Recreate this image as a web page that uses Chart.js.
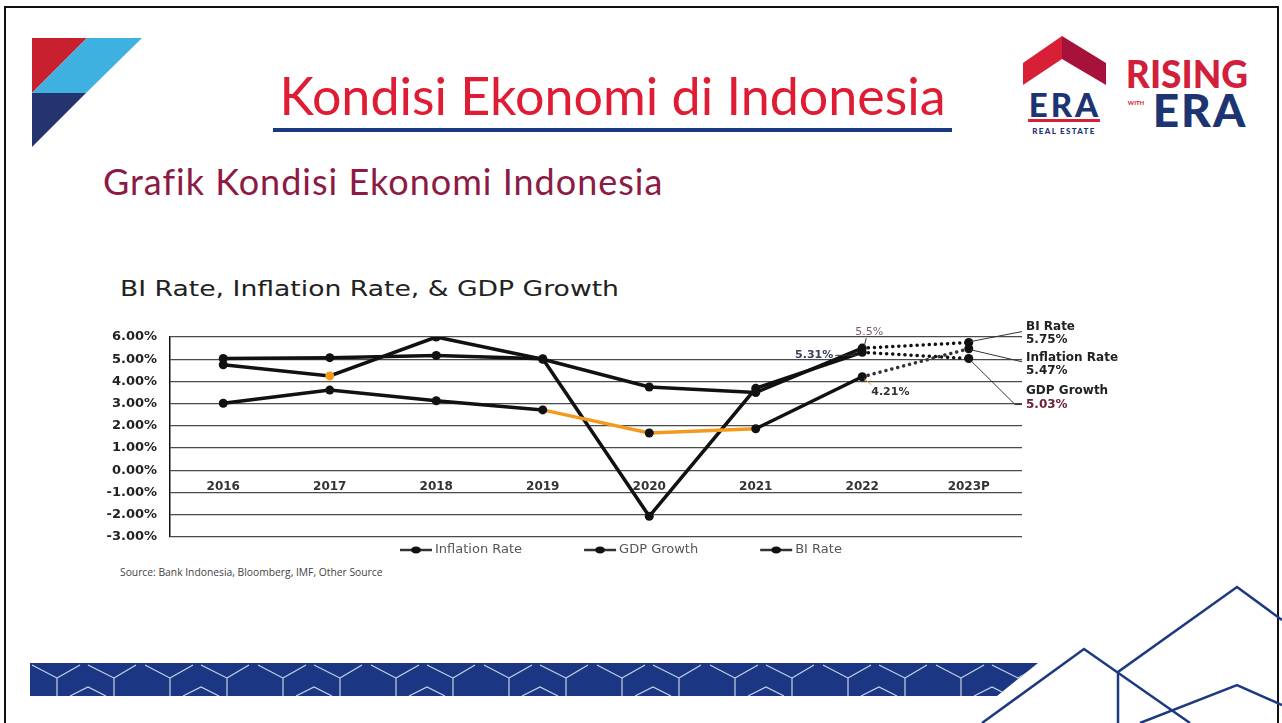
<!DOCTYPE html>
<html>
<head>
<meta charset="utf-8">
<script src="https://cdn.jsdelivr.net/npm/chart.js@4.4.0/dist/chart.umd.min.js"></script>
<style>
body { margin: 0; width: 1282px; height: 723px; overflow: hidden; background: #fff; position: relative; font-family: Lato, sans-serif; }
#frame { position: absolute; left: 4px; top: 6px; width: 1271px; height: 740px; border: 2px solid #111; }
#deco { position: absolute; left: 0; top: 0; }
.title { position: absolute; left: 263px; width: 699px; top: 64px; text-align: center; font-size: 52px; line-height: 62px; color: #e01b34; white-space: nowrap; }
.rule { position: absolute; left: 273px; top: 128px; width: 679px; height: 4px; background: #1b3a84; }
.subtitle { position: absolute; left: 103px; top: 158px; font-size: 36px; line-height: 46px; letter-spacing: 1px; color: #8c1a45; white-space: nowrap; }
.ctitle { position: absolute; left: 120px; top: 275px; font-family: "DejaVu Sans", sans-serif; font-size: 22px; line-height: 28px; color: #222; white-space: nowrap; transform: scaleX(1.21); transform-origin: 0 0; }
.source { position: absolute; left: 120px; top: 566px; font-family: "Open Sans", sans-serif; font-size: 10.3px; line-height: 13px; color: #444; white-space: nowrap; }
#chart { position: absolute; left: 100px; top: 300px; }
</style>
</head>
<body>
<div id="frame"></div>
<svg id="deco" width="1282" height="723">
  <defs>
    <pattern id="band" x="30" y="663" width="113" height="33" patternUnits="userSpaceOnUse">
      <path d="M2,2 L27,15 L27,33 M27,15 L50,2 M40,33 L58,24 L76,33 M58,2 L84,15 L84,33 M84,15 L106,2" stroke="#c9d1e4" stroke-width="1.2" fill="none"/>
    </pattern>
  </defs>
  <!-- left logo -->
  <polygon points="32,38 87,38 32,93" fill="#c8202f"/>
  <polygon points="87,38 142,38 86,93 32,93" fill="#3eb1e0"/>
  <polygon points="32,93 86,93 32,147" fill="#24346f"/>
  <!-- ERA logo -->
  <polygon points="1023,63 1062,36 1062,59 1023,85" fill="#d71f35"/>
  <polygon points="1062,36 1106,63 1106,85 1062,59" fill="#a6123a"/>
  <text x="1065" y="117" text-anchor="middle" font-family="Lato" font-weight="900" font-size="33" letter-spacing="3" fill="#1d3473">ERA</text>
  <rect x="1028" y="119" width="72" height="3" fill="#d71f35"/>
  <text x="1064" y="134" text-anchor="middle" font-family="Lato" font-weight="900" font-size="8" letter-spacing="1.3" fill="#1d3473">REAL ESTATE</text>
  <text x="1187" y="88" text-anchor="middle" font-family="Lato" font-weight="900" font-size="37" fill="#d21f3c">RISING</text>
  <text x="1136" y="105" text-anchor="middle" font-family="Lato" font-weight="900" font-size="6" fill="#d21f3c">WITH</text>
  <text x="1200" y="127" text-anchor="middle" font-family="Lato" font-weight="900" font-size="46" letter-spacing="2" fill="#1d3473">ERA</text>
  <!-- bottom band -->
  <polygon points="30,663 1038,663 997,696 30,696" fill="#1b3784"/>
  <polygon points="30,663 1038,663 997,696 30,696" fill="url(#band)"/>
  <!-- bottom right line art -->
  <g stroke="#1d3a80" stroke-width="2.5" fill="none">
    <polyline points="982,723 1084,649 1190,723"/>
    <polyline points="1118,723 1118,672 1237,587 1282,620"/>
    <polyline points="1140,723 1237,685 1282,705"/>
  </g>
</svg>
<div class="title">Kondisi Ekonomi di Indonesia</div>
<div class="rule"></div>
<div class="subtitle">Grafik Kondisi Ekonomi Indonesia</div>
<div class="ctitle">BI Rate, Inflation Rate, &amp; GDP Growth</div>
<div class="source">Source: Bank Indonesia, Bloomberg, IMF, Other Source</div>
<canvas id="chart" width="1182" height="270"></canvas>
<script>
const years = ['2016', '2017', '2018', '2019', '2020', '2021', '2022', '2023P'];
const inflation = [3.02, 3.61, 3.13, 2.72, 1.68, 1.87, 4.21, 5.47];
const gdpGrowth = [5.03, 5.07, 5.17, 5.02, -2.07, 3.69, 5.31, 5.03];
const biRate = [4.75, 4.25, 6.00, 5.00, 3.75, 3.50, 5.50, 5.75];
const seriesNames = ['Inflation Rate', 'GDP Growth', 'BI Rate'];

const orange = '#f39a1e';

// dotted projection segment into 2023P
const dotted = ctx => ctx.p1DataIndex === 7 ? [0.1, 6] : undefined;

function line(ctx, x1, y1, x2, y2) {
    ctx.beginPath();
    ctx.moveTo(x1, y1);
    ctx.lineTo(x2, y2);
    ctx.stroke();
}

const calloutPlugin = {
    id: 'callouts',
    afterDatasetsDraw(chart) {
        const { ctx, chartArea, scales: { x, y } } = chart;
        const x22 = x.getPixelForValue(6);
        const x23 = x.getPixelForValue(7);
        const right = chartArea.right;
        ctx.save();
        ctx.strokeStyle = '#333';
        ctx.lineWidth = 1;
        ctx.textBaseline = 'middle';

        // 2022 values
        let py = y.getPixelForValue(biRate[6]);
        line(ctx, x22 + 2, py - 2, x22 + 4, py - 10);
        ctx.font = '11px "DejaVu Sans"';
        ctx.fillStyle = '#7d5c66';
        ctx.textAlign = 'center';
        ctx.fillText('5.5%', x22 + 7, py - 16);

        py = y.getPixelForValue(gdpGrowth[6]);
        line(ctx, x22 - 27, py + 3, x22 - 5, py + 3);
        ctx.font = 'bold 11px "DejaVu Sans"';
        ctx.fillStyle = '#3b4060';
        ctx.textAlign = 'right';
        ctx.fillText(gdpGrowth[6].toFixed(2) + '%', x22 - 29, py + 3);

        py = y.getPixelForValue(inflation[6]);
        ctx.strokeStyle = orange;
        line(ctx, x22 + 2, py + 2, x22 + 9, py + 8);
        ctx.fillStyle = '#333';
        ctx.textAlign = 'left';
        ctx.fillText(inflation[6].toFixed(2) + '%', x22 + 9, py + 15);

        // 2023P projections, labelled to the right
        ctx.strokeStyle = '#333';
        ctx.font = 'bold 12px "DejaVu Sans"';
        py = y.getPixelForValue(biRate[7]);
        line(ctx, x23 + 2, py - 1, right, py - 11);
        ctx.fillStyle = '#222';
        ctx.fillText('BI Rate', right + 4, py - 16);
        ctx.fillText(biRate[7].toFixed(2) + '%', right + 4, py - 3);

        py = y.getPixelForValue(inflation[7]);
        line(ctx, x23 + 2, py + 1, right, py + 13);
        ctx.fillText('Inflation Rate', right + 4, py + 9);
        ctx.fillText(inflation[7].toFixed(2) + '%', right + 4, py + 22);

        py = y.getPixelForValue(gdpGrowth[7]);
        ctx.beginPath();
        ctx.moveTo(x23 + 1, py + 1);
        ctx.lineTo(right - 7, py + 46);
        ctx.lineTo(right, py + 46);
        ctx.stroke();
        ctx.fillText('GDP Growth', right + 4, py + 32);
        ctx.fillStyle = '#6e2236';
        ctx.fillText(gdpGrowth[7].toFixed(2) + '%', right + 4, py + 46);
        ctx.restore();
    }
};

const legendPlugin = {
    id: 'bottomLegend',
    afterDraw(chart) {
        const { ctx, chartArea } = chart;
        const y = chartArea.bottom + 13;
        let x = chartArea.left + 230;
        ctx.save();
        ctx.font = '13px "DejaVu Sans"';
        ctx.textBaseline = 'middle';
        ctx.textAlign = 'left';
        chart.data.datasets.forEach(ds => {
            ctx.strokeStyle = '#333';
            ctx.lineWidth = 2.5;
            line(ctx, x, y, x + 32, y);
            ctx.fillStyle = '#111';
            ctx.beginPath();
            ctx.ellipse(x + 16, y, 5, 3.5, 0, 0, Math.PI * 2);
            ctx.fill();
            ctx.fillStyle = '#555';
            ctx.fillText(ds.label, x + 35, y);
            x += 35 + ctx.measureText(ds.label).width + 62;
        });
        ctx.restore();
    }
};

const ctx = document.getElementById('chart');

const myChart = new Chart(ctx, {
    type: 'line',
    data: {
        labels: years,
        datasets: [
            {
                label: seriesNames[0],
                data: inflation,
                borderColor: '#111',
                borderWidth: 3.5,
                pointRadius: 4.5,
                pointBackgroundColor: '#111',
                pointBorderWidth: 0,
                segment: {
                    borderColor: c => (c.p0DataIndex === 3 || c.p0DataIndex === 4) ? orange : (c.p1DataIndex === 7 ? '#333' : undefined),
                    borderDash: dotted,
                    borderCapStyle: c => c.p1DataIndex === 7 ? 'round' : undefined
                }
            },
            {
                label: seriesNames[1],
                data: gdpGrowth,
                borderColor: '#111',
                borderWidth: 3.5,
                pointRadius: 4.5,
                pointBackgroundColor: '#111',
                pointBorderWidth: 0,
                segment: {
                    borderDash: dotted,
                    borderCapStyle: c => c.p1DataIndex === 7 ? 'round' : undefined
                }
            },
            {
                label: seriesNames[2],
                data: biRate,
                borderColor: '#111',
                borderWidth: 3.5,
                pointRadius: 4.5,
                pointBackgroundColor: ['#111', orange, '#111', '#111', '#111', '#111', '#111', '#111'],
                pointBorderWidth: 0,
                segment: {
                    borderDash: dotted,
                    borderCapStyle: c => c.p1DataIndex === 7 ? 'round' : undefined
                }
            }
        ]
    },
    options: {
        responsive: false,
        animation: false,
        devicePixelRatio: 1,
        layout: { padding: { left: 0, top: 37, right: 260, bottom: 33 } },
        plugins: {
            legend: { display: false },
            tooltip: { enabled: false }
        },
        scales: {
            x: {
                position: { y: 0 },
                offset: true,
                grid: { display: false, drawTicks: false },
                border: { display: false },
                ticks: {
                    padding: 9,
                    color: '#333',
                    font: { family: 'DejaVu Sans', weight: 'bold', size: 12 }
                }
            },
            y: {
                min: -3,
                max: 6,
                afterFit: s => { s.width = 70; },
                grid: { color: '#4a4a4a', lineWidth: 1.3, drawTicks: false },
                border: { display: true, color: '#111', width: 1.5 },
                ticks: {
                    stepSize: 1,
                    padding: 13,
                    color: '#222',
                    font: { family: 'DejaVu Sans', weight: 'bold', size: 13 },
                    callback: v => v.toFixed(2) + '%'
                }
            }
        }
    },
    plugins: [calloutPlugin, legendPlugin]
});
</script>
</body>
</html>
